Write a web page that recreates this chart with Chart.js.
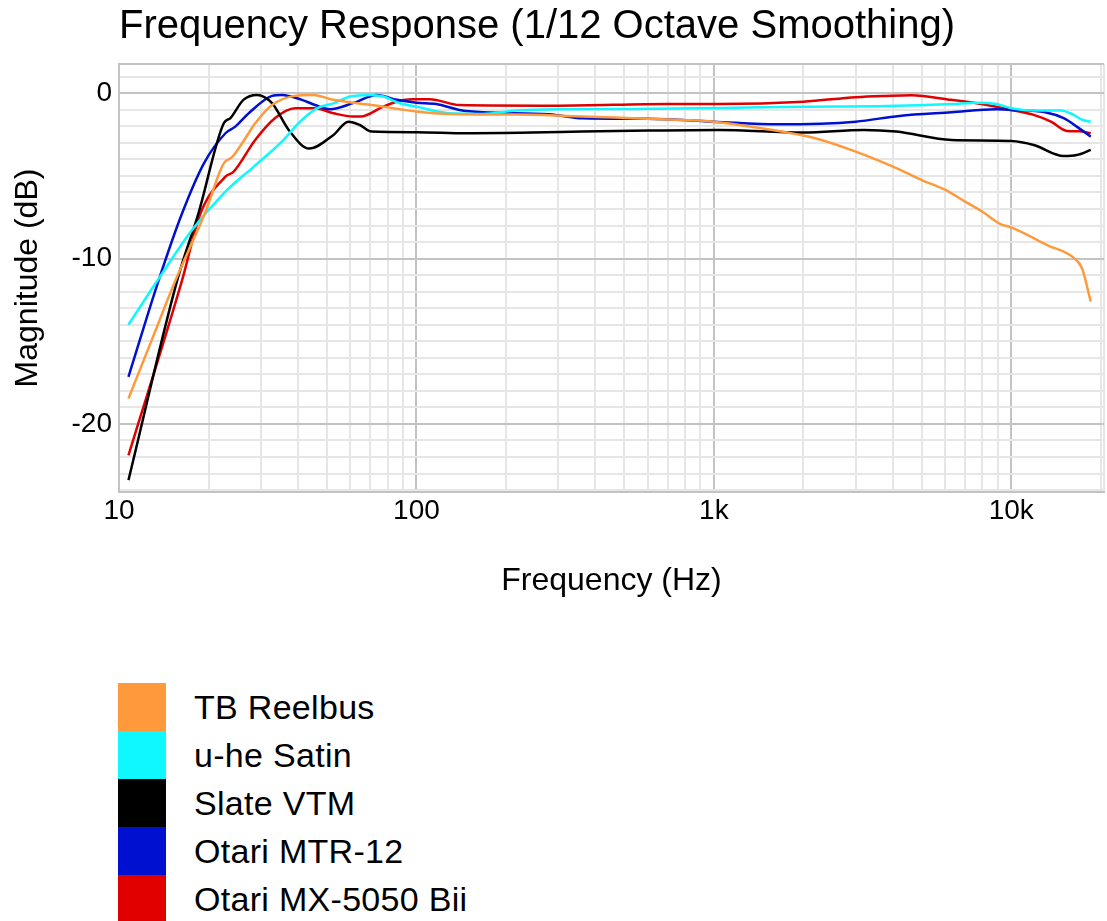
<!DOCTYPE html>
<html>
<head>
<meta charset="utf-8">
<title>Frequency Response</title>
<script src="https://cdn.jsdelivr.net/npm/chart.js@4.4.1/dist/chart.umd.min.js"></script>
<style>
body{margin:0;background:#fff;font-family:'Liberation Sans',Arial,sans-serif;}
#wrap{position:relative;width:1107px;height:610px;}
#legend{position:absolute;left:118px;top:683px;}
.item{display:flex;align-items:center;height:48px;}
.box{width:48px;height:48px;margin-right:28px;}
.item span{font-size:34px;color:#000;letter-spacing:0.3px;}
</style>
</head>
<body>
<div id="wrap"><canvas id="chart"></canvas></div>
<div id="legend"></div>
<script>
const seriesNames = ["TB Reelbus", "u-he Satin", "Slate VTM", "Otari MTR-12", "Otari MX-5050 Bii"];
const seriesColors = ["#ff9a3c", "#10f8ff", "#000000", "#0010d0", "#e00000"];

// TB Reelbus
const reelbusHz = [10.76, 13, 15.5, 19.5, 22.5, 24, 26.6, 28.7, 32.7, 39, 45, 52.6, 70, 100, 129, 216, 318, 532, 782, 1000, 1690, 2190, 3000, 4000, 5000, 6000, 7000, 8000, 9200, 10000, 13200, 16300, 17300, 18500];
const reelbusDb = [-18.46, -14.75, -11.3, -7.2, -4.24, -3.87, -2.72, -1.82, -0.71, -0.16, -0.1, -0.4, -0.7, -1.1, -1.25, -1.29, -1.37, -1.51, -1.62, -1.72, -2.32, -2.72, -3.53, -4.44, -5.25, -5.85, -6.56, -7.17, -7.91, -8.11, -9.18, -9.99, -10.6, -12.6];

// u-he Satin
const satinHz = [10.76, 13.5, 17.6, 22.8, 28.4, 35.7, 40.6, 46.3, 52.6, 59.8, 70, 77.4, 88, 100, 129, 167, 216, 318, 532, 1070, 2000, 3800, 6300, 7700, 8900, 10000, 11900, 14700, 15800, 17400, 18500];
const satinDb = [-14.0, -11.3, -8.27, -5.95, -4.44, -2.83, -1.72, -0.91, -0.61, -0.2, -0.1, -0.2, -0.61, -0.81, -1.21, -1.25, -1.05, -0.97, -0.95, -0.89, -0.81, -0.77, -0.65, -0.57, -0.65, -0.91, -1.05, -1.05, -1.21, -1.62, -1.72];

// Slate VTM
const vtmHz = [10.76, 15.7, 18.5, 22.5, 23.7, 26.2, 29.1, 32.7, 37.2, 43.6, 52.6, 59, 64.5, 70.6, 100, 147, 245, 361, 605, 1040, 2000, 3200, 4100, 6300, 10000, 11900, 15000, 16600, 18500];
const vtmDb = [-23.4, -11.3, -7.26, -1.82, -1.5, -0.4, -0.1, -0.6, -2.22, -3.35, -2.52, -1.72, -1.92, -2.32, -2.36, -2.42, -2.38, -2.32, -2.26, -2.22, -2.38, -2.22, -2.32, -2.83, -2.89, -3.13, -3.8, -3.74, -3.43];

// Otari MTR-12
const mtrHz = [10.76, 13.6, 16.3, 19.3, 22.8, 24.6, 27.3, 32.7, 35.3, 41.2, 45.6, 51.2, 61.2, 73.5, 86, 100, 116.6, 139.6, 167, 280, 361, 600, 1000, 1650, 3000, 4200, 6300, 8900, 10000, 13000, 15000, 16600, 18500];
const mtrDb = [-17.15, -11.3, -7.26, -4.24, -2.42, -2.02, -1.21, -0.16, -0.1, -0.4, -0.71, -0.97, -0.6, -0.1, -0.4, -0.57, -0.65, -1.01, -1.15, -1.27, -1.51, -1.55, -1.72, -1.88, -1.72, -1.37, -1.15, -0.97, -1.01, -1.15, -1.51, -2.02, -2.63];

// Otari MX-5050 Bii
const mxHz = [10.76, 16.3, 18.8, 22.8, 24.3, 28.7, 33.5, 39.1, 45.6, 52.6, 61.2, 65, 77.4, 88, 97, 110.8, 139.6, 300, 700, 1040, 2000, 3000, 3800, 4610, 6280, 8300, 10000, 11900, 13600, 15400, 16900, 18500];
const mxDb = [-21.9, -11.3, -7.26, -5.05, -4.74, -2.83, -1.5, -0.91, -0.91, -1.21, -1.41, -1.41, -0.81, -0.45, -0.37, -0.36, -0.71, -0.75, -0.65, -0.65, -0.51, -0.24, -0.16, -0.12, -0.4, -0.71, -1.01, -1.31, -1.72, -2.28, -2.3, -2.42];

const xTickValues = [10, 100, 1000, 10000];
const xTickLabels = ["10", "100", "1k", "10k"];
const yTickValues = [0, -10, -20];

const allHz = [reelbusHz, satinHz, vtmHz, mtrHz, mxHz];
const allDb = [reelbusDb, satinDb, vtmDb, mtrDb, mxDb];

const xMin = 10, xMax = 20500, yMin = -24.1, yMax = 1.75;
const FONT = "'Liberation Sans', Arial, sans-serif";
Chart.defaults.font.family = FONT;
Chart.defaults.color = "#000";

const datasets = seriesNames.map((name, i) => ({
    label: name,
    data: allHz[i].map((f, j) => ({x: f, y: allDb[i][j]})),
    borderColor: seriesColors[i],
    backgroundColor: seriesColors[i],
    borderWidth: 2.5,
    pointRadius: 0,
    cubicInterpolationMode: "monotone",
    fill: false
}));

new Chart(document.getElementById("chart"), {
    type: "line",
    data: {datasets},
    options: {
        responsive: true,
        maintainAspectRatio: false,
        animation: false,
        events: [],
        layout: {padding: {left: 0, right: 1, top: 0, bottom: 0}},
        plugins: {
            legend: {display: false},
            tooltip: {enabled: false},
            title: {
                display: true,
                text: "Frequency Response (1/12 Octave Smoothing)",
                align: "start",
                fullSize: false,
                color: "#000",
                font: {size: 40, weight: "normal"},
                padding: {top: 3, bottom: 13.3}
            }
        },
        scales: {
            x: {
                type: "logarithmic",
                min: xMin,
                max: xMax,
                afterBuildTicks: s => {
                    let t = [];
                    for (let d = 10; d <= 10000; d *= 10)
                        for (let m = 1; m < 10; m++)
                            if (m * d < xMax) t.push({value: m * d});
                    t.push({value: xMax});
                    s.ticks = t;
                },
                afterFit: s => { s.height = 118.3; },
                ticks: {
                    autoSkip: false, maxRotation: 0, minRotation: 0, padding: 3,
                    font: {size: 28},
                    callback: v => { let i = xTickValues.indexOf(v); return i < 0 ? "" : xTickLabels[i]; }
                },
                grid: {
                    drawTicks: false, lineWidth: 2,
                    color: c => (c.tick && xTickValues.includes(c.tick.value)) ? "#c3c3c3" : "#e6e6e6"
                },
                border: {color: "#c3c3c3", width: 2},
                title: {display: true, text: "Frequency (Hz)", font: {size: 32}, padding: {top: 0, bottom: 10}}
            },
            y: {
                min: yMin,
                max: yMax,
                afterBuildTicks: s => {
                    let t = [];
                    for (let v = -24; v <= 1; v++) t.push({value: v});
                    t.push({value: yMax});
                    s.ticks = t;
                },
                afterFit: s => { s.width = 119; },
                ticks: {
                    autoSkip: false, padding: 7,
                    font: {size: 28},
                    callback: v => yTickValues.includes(v) ? String(v) : ""
                },
                grid: {
                    drawTicks: false, lineWidth: 2,
                    color: c => (c.tick && (yTickValues.includes(c.tick.value) || c.tick.value === yMax)) ? "#c3c3c3" : "#e6e6e6"
                },
                border: {color: "#c3c3c3", width: 2},
                title: {display: true, text: "Magnitude (dB)", font: {size: 32}, padding: {top: 8.5, bottom: 0}}
            }
        }
    }
});

// legend
let legend = document.getElementById("legend");
seriesNames.forEach((name, i) => {
    legend.innerHTML += `<div class="item"><div class="box" style="background:${seriesColors[i]}"></div><span>${name}</span></div>`;
});
</script>
</body>
</html>
